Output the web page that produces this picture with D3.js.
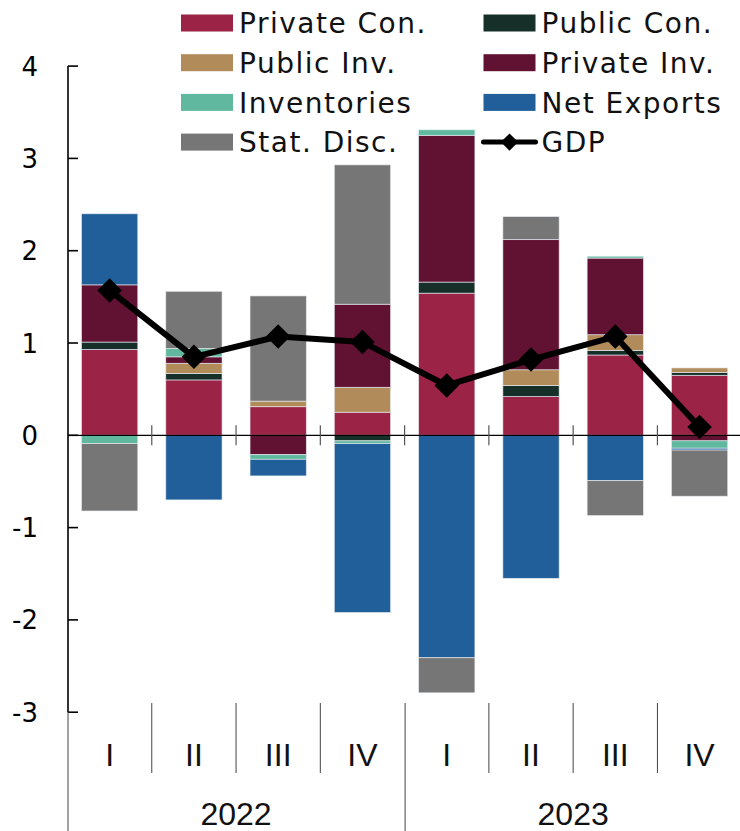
<!DOCTYPE html>
<html><head><meta charset="utf-8">
<script src="https://cdn.jsdelivr.net/npm/d3@7"></script>
<style>html,body{margin:0;padding:0;background:#fff}svg{display:block}</style>
</head><body>
<svg id="c" width="740" height="831"></svg>
<script>
// ---- data ----
const quarters = ["I","II","III","IV","I","II","III","IV"];
const years = ["2022","2023"];
const seriesNames = ["Private Con.","Public Con.","Public Inv.","Private Inv.","Inventories","Net Exports","Stat. Disc."];
const privateCon  = [0.93, 0.60, 0.31, 0.25, 1.54, 0.42, 0.87, 0.65];
const publicCon   = [0.08, 0.07, 0.00,-0.06, 0.12, 0.12, 0.05, 0.03];
const publicInv   = [0.00, 0.11, 0.06, 0.27, 0.00, 0.17, 0.17, 0.05];
const privateInv  = [0.62, 0.07,-0.21, 0.90, 1.59, 1.41, 0.83,-0.06];
const inventories = [-0.09,0.09,-0.05,-0.03, 0.06, 0.00, 0.02,-0.08];
const netExports  = [0.77,-0.70,-0.18,-1.83,-2.41,-1.55,-0.49,-0.02];
const statDisc    = [-0.73,0.62, 1.14, 1.51,-0.38, 0.25,-0.38,-0.50];
const gdp         = [1.57, 0.85, 1.07, 1.01, 0.54, 0.82, 1.07, 0.09];
const yTicks = [-3,-2,-1,0,1,2,3,4];
const colors = ["#9b2346","#163029","#b28b5a","#611131","#60b99e","#215f9a","#767676"];

const seriesVals = [privateCon, publicCon, publicInv, privateInv, inventories, netExports, statDisc];
const keys = seriesNames;
const rows = quarters.map((q,i)=>{const r={idx:i}; keys.forEach((k,j)=>r[k]=seriesVals[j][i]); return r;});

const svg = d3.select("#c");
const x = d3.scaleBand().domain(d3.range(quarters.length)).range([67.5, 741.7]).paddingInner(0.332).paddingOuter(0.166);
const y = d3.scaleLinear().domain([-3,4]).range([712.2, 66.1]);
const step = x.step();
const x0 = 67.5;

// bars
const stacked = d3.stack().keys(keys).offset(d3.stackOffsetDiverging)(rows);
svg.append("g").selectAll("g").data(stacked).join("g")
  .attr("fill",(d,i)=>colors[i])
  .selectAll("rect").data(d=>d).join("rect")
  .attr("x",d=>x(d.data.idx))
  .attr("width",x.bandwidth())
  .attr("y",d=>y(Math.max(d[0],d[1])))
  .attr("height",d=>Math.abs(y(d[0])-y(d[1])))
  .attr("stroke","rgba(235,240,245,0.75)")
  .attr("stroke-width",0.8);

// y axis
const gy = svg.append("g");
gy.append("line").attr("x1",68).attr("x2",68).attr("y1",y(4)).attr("y2",y(-3)).attr("stroke","#000").attr("stroke-width",1.6);
gy.selectAll("line.t").data(yTicks).join("line").attr("class","t")
  .attr("x1",68).attr("x2",78).attr("y1",d=>y(d)).attr("y2",d=>y(d)).attr("stroke","#000").attr("stroke-width",1.6);
gy.selectAll("text").data(yTicks).join("text")
  .attr("x",38).attr("y",d=>y(d)+9.5).attr("text-anchor","end")
  .attr("font-family","DejaVu Sans").attr("font-size",26).attr("fill","#000")
  .text(d=>d);

// zero line
svg.append("line").attr("x1",68).attr("x2",740).attr("y1",y(0)).attr("y2",y(0)).attr("stroke","#000").attr("stroke-width",1.3);
// band ticks on zero line
svg.selectAll("line.bt").data(d3.range(1,quarters.length)).join("line").attr("class","bt")
  .attr("x1",d=>x0+d*step).attr("x2",d=>x0+d*step).attr("y1",y(0)-10).attr("y2",y(0)+10)
  .attr("stroke","#555").attr("stroke-width",1.2);

// GDP line
const line = d3.line().x((d,i)=>x(i)+x.bandwidth()/2).y(d=>y(d));
svg.append("path").datum(gdp).attr("d",line).attr("fill","none").attr("stroke","#000").attr("stroke-width",6).attr("stroke-linejoin","round");
svg.selectAll("path.m").data(gdp).join("path").attr("class","m")
  .attr("d",d3.symbol(d3.symbolSquare,300)())
  .attr("transform",(d,i)=>`translate(${x(i)+x.bandwidth()/2},${y(d)}) rotate(45)`)
  .attr("fill","#000");

// x axis categories
const gx = svg.append("g");
gx.selectAll("line.q").data(d3.range(0,quarters.length+1).filter(i=>i!==0 && i!==4 && i!==8)).join("line").attr("class","q")
  .attr("x1",d=>x0+d*step).attr("x2",d=>x0+d*step).attr("y1",703).attr("y2",773).attr("stroke","#444").attr("stroke-width",1);
gx.selectAll("line.yr").data([0,4]).join("line").attr("class","yr")
  .attr("x1",d=>x0+d*step+0.5).attr("x2",d=>x0+d*step+0.5).attr("y1",d=>d===0?712:703).attr("y2",831).attr("stroke","#444").attr("stroke-width",1);
gx.selectAll("text.q").data(quarters).join("text").attr("class","q")
  .attr("x",(d,i)=>x(i)+x.bandwidth()/2).attr("y",766).attr("text-anchor","middle")
  .attr("font-family","Liberation Sans").attr("font-size",32).attr("fill","#111").text(d=>d);
gx.selectAll("text.y").data(years).join("text").attr("class","y")
  .attr("x",(d,i)=>x0+(i*4+2)*step).attr("y",825).attr("text-anchor","middle")
  .attr("font-family","Liberation Sans").attr("font-size",32).attr("fill","#111").text(d=>d);

// legend
const legendItems = [
  {name:"Private Con.", c:colors[0], col:0,row:0},
  {name:"Public Con.", c:colors[1], col:1,row:0},
  {name:"Public Inv.", c:colors[2], col:0,row:1},
  {name:"Private Inv.", c:colors[3], col:1,row:1},
  {name:"Inventories", c:colors[4], col:0,row:2},
  {name:"Net Exports", c:colors[5], col:1,row:2},
  {name:"Stat. Disc.", c:colors[6], col:0,row:3},
  {name:"GDP", c:"#000", col:1,row:3, line:true}
];
const colX = [181, 483.5];
const lg = svg.append("g");
legendItems.forEach(it=>{
  const lx = colX[it.col], ly = 23 + it.row*39.7;
  if(it.line){
    lg.append("line").attr("x1",lx).attr("x2",lx+52).attr("y1",ly).attr("y2",ly).attr("stroke","#000").attr("stroke-width",5).attr("stroke-linecap","round");
    lg.append("path").attr("d",d3.symbol(d3.symbolSquare,150)()).attr("transform",`translate(${lx+26},${ly}) rotate(45)`).attr("fill","#000");
  } else {
    lg.append("rect").attr("x",lx).attr("y",ly-8.5).attr("width",52).attr("height",17).attr("fill",it.c);
  }
  lg.append("text").attr("x",lx+58).attr("y",ly+10.3).attr("font-family","DejaVu Sans").attr("font-size",28)
    .attr("letter-spacing",1.5).attr("fill","#111").text(it.name);
});
</script>
</body></html>
